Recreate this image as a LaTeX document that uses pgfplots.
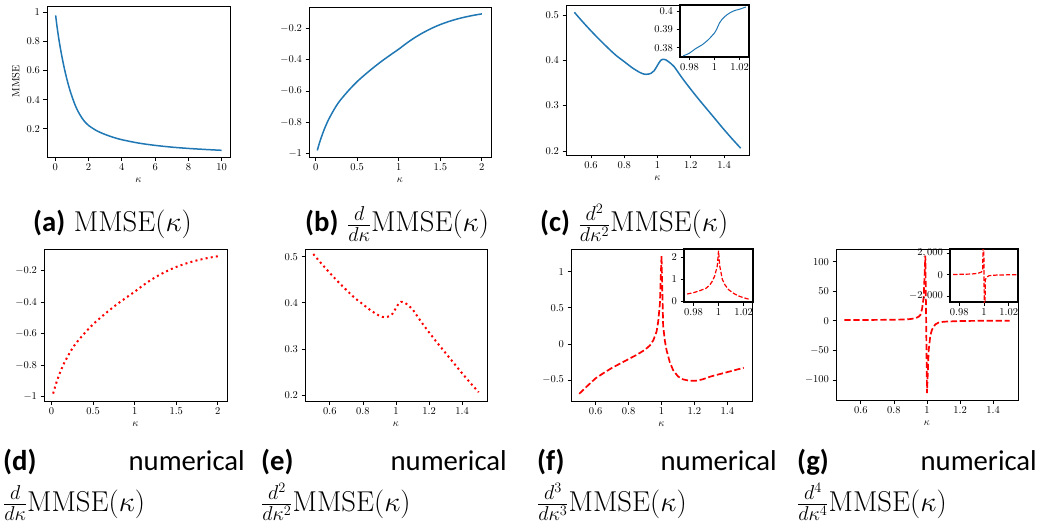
\RequirePackage{fix-cm}
\documentclass[border=0pt]{standalone}
\usepackage{fontspec}
\usepackage{pgfplots}
\usepackage{pgfplotstable}
\pgfplotsset{compat=1.18}
\newfontfamily\capfont{Carlito}
\definecolor{mplblue}{HTML}{1F77B4}
\newcommand{\capsize}{\fontsize{28.7}{34}\selectfont}

% exact MMSE and its derivatives
\pgfplotstableread{
k m
0.02 0.980
0.1 0.906
0.2 0.826
0.3 0.757
0.4 0.695
0.5 0.638
0.6 0.586
0.7 0.539
0.8 0.496
0.9 0.457
1.0 0.422
1.2 0.360
1.4 0.312
1.6 0.274
1.8 0.244
2.0 0.222
2.5 0.185
3.0 0.160
3.5 0.140
4.0 0.124
5.0 0.101
6.0 0.085
7.0 0.073
8.0 0.064
9.0 0.057
10.0 0.051
}\mmse

\pgfplotstableread{
k d
0.02 -0.980
0.05 -0.925
0.1 -0.850
0.15 -0.789
0.2 -0.739
0.25 -0.694
0.3 -0.657
0.4 -0.595
0.5 -0.540
0.6 -0.493
0.7 -0.449
0.8 -0.408
0.9 -0.370
1.0 -0.333
1.1 -0.293
1.2 -0.257
1.3 -0.226
1.4 -0.199
1.5 -0.176
1.6 -0.157
1.7 -0.141
1.8 -0.128
1.9 -0.117
2.0 -0.108
}\dfirst

\pgfplotstableread{
k d
0.5 0.506
0.55 0.485
0.6 0.465
0.65 0.446
0.7 0.428
0.75 0.411
0.8 0.397
0.85 0.383
0.9 0.372
0.93 0.369
0.96 0.371
0.98 0.377
1.0 0.389
1.01 0.395
1.02 0.400
1.03 0.402
1.05 0.401
1.08 0.393
1.1 0.386
1.15 0.360
1.2 0.336
1.25 0.313
1.3 0.291
1.35 0.269
1.4 0.247
1.45 0.226
1.5 0.206
}\dsecond

\pgfplotstableread{
k d
0.975 0.3755
0.98 0.3770
0.985 0.3795
0.99 0.3815
0.995 0.3843
0.998 0.3865
1.0 0.3880
1.002 0.3905
1.004 0.3935
1.006 0.3955
1.01 0.3980
1.015 0.4000
1.02 0.4010
1.025 0.4022
}\dsecondzoom

% numerical third and fourth derivatives
\pgfplotstableread{
k d
0.5 -0.69
0.55 -0.58
0.6 -0.475
0.65 -0.40
0.7 -0.33
0.75 -0.27
0.8 -0.21
0.85 -0.15
0.9 -0.08
0.93 -0.02
0.95 0.05
0.97 0.17
0.98 0.31
0.99 0.55
1.0 1.22
1.01 0.25
1.02 0.05
1.03 -0.08
1.05 -0.25
1.07 -0.36
1.1 -0.45
1.13 -0.49
1.17 -0.51
1.21 -0.51
1.25 -0.49
1.3 -0.45
1.35 -0.42
1.4 -0.39
1.45 -0.36
1.5 -0.33
}\dthird

\pgfplotstableread{
k d
0.975 0.32
0.98 0.38
0.985 0.47
0.99 0.58
0.993 0.73
0.995 0.90
0.997 1.15
0.999 1.60
1.0 2.30
1.001 1.60
1.003 1.00
1.005 0.75
1.008 0.52
1.012 0.35
1.016 0.23
1.02 0.15
1.025 0.07
}\dthirdzoom

\pgfplotstableread{
k d
0.5 1.5
0.6 1.5
0.7 1.6
0.8 1.8
0.85 2.2
0.9 3.0
0.93 4.5
0.95 7
0.96 10
0.97 20
0.98 40
0.99 110
1.0 -122
1.01 -50
1.02 -25
1.03 -15
1.05 -6
1.07 -3
1.1 -1.5
1.2 -0.3
1.3 0
1.5 0
}\dfourth

\pgfplotstableread{
k d
0.975 15
0.985 40
0.99 60
0.995 120
0.998 250
0.999 500
0.9995 9000
1.0005 -9000
1.001 -500
1.002 -250
1.004 -100
1.01 -40
1.02 -15
1.0275 -8
}\dfourthzoom

\pgfplotsset{
  panel/.style={
    scale only axis, anchor=south west,
    axis line style={black, line width=0.8pt},
    tick align=outside, xtick pos=left, ytick pos=left,
    major tick length=3.5pt,
    tick style={black, line width=0.8pt},
    tick label style={font=\fontsize{10.5}{12}\selectfont},
    label style={font=\fontsize{10.5}{12}\selectfont},
    scaled ticks=false,
    /pgf/number format/1000 sep={,},
  },
  inset/.style={panel, axis background/.style={fill=white},
    axis line style={black, line width=1.1pt}},
  exact/.style={mplblue, line width=1.5pt, smooth},
  numdot/.style={red, line width=2pt, dash pattern=on 2pt off 3.2pt},
  numdash/.style={red, line width=1.7pt, dash pattern=on 6.3pt off 2.7pt},
  numdashthin/.style={red, line width=1.2pt, dash pattern=on 4.4pt off 1.9pt},
}

\begin{document}
\begin{tikzpicture}
\useasboundingbox (0,0) rectangle (1040pt,528pt);

% (a)
\begin{axis}[panel, at={(47pt,371pt)}, width=183pt, height=151pt,
  xmin=-0.5, xmax=10.5, ymin=0.005, ymax=1.045,
  xtick={0,2,4,6,8,10}, ytick={0.2,0.4,0.6,0.8,1},
  xlabel={$\kappa$}, ylabel={MMSE}]
\addplot[exact] table[x=k,y=m]{\mmse};
\end{axis}

% (b)
\begin{axis}[panel, at={(309pt,371pt)}, width=182pt, height=150pt,
  xmin=-0.08, xmax=2.11, ymin=-1.022, ymax=-0.064,
  xtick={0,0.5,1,1.5,2}, ytick={-1,-0.8,-0.6,-0.4,-0.2},
  xlabel={$\kappa$}]
\addplot[exact] table[x=k,y=d]{\dfirst};
\end{axis}

% (c)
\begin{axis}[panel, at={(566pt,373pt)}, width=183pt, height=150pt,
  xmin=0.45, xmax=1.55, ymin=0.191, ymax=0.522,
  xtick={0.6,0.8,1,1.2,1.4}, ytick={0.2,0.3,0.4,0.5},
  xlabel={$\kappa$}]
\addplot[exact] table[x=k,y=d]{\dsecond};
\end{axis}
\begin{axis}[inset, at={(680pt,471pt)}, width=69pt, height=52pt,
  xmin=0.9725, xmax=1.0275, ymin=0.3749, ymax=0.4033,
  xtick={0.98,1,1.02}, ytick={0.38,0.39,0.4}]
\addplot[exact, line width=1pt] table[x=k,y=d]{\dsecondzoom};
\end{axis}

% (d)
\begin{axis}[panel, at={(44pt,127pt)}, width=183pt, height=152pt,
  xmin=-0.09, xmax=2.11, ymin=-1.027, ymax=-0.062,
  xtick={0,0.5,1,1.5,2}, ytick={-1,-0.8,-0.6,-0.4,-0.2},
  xlabel={$\kappa$}]
\addplot[numdot, smooth] table[x=k,y=d]{\dfirst};
\end{axis}

% (e)
\begin{axis}[panel, at={(305pt,127pt)}, width=182pt, height=152pt,
  xmin=0.45, xmax=1.55, ymin=0.187, ymax=0.517,
  xtick={0.6,0.8,1,1.2,1.4}, ytick={0.2,0.3,0.4,0.5},
  xlabel={$\kappa$}]
\addplot[numdot, smooth] table[x=k,y=d]{\dsecond};
\end{axis}

% (f)
\begin{axis}[panel, at={(571pt,127pt)}, width=181pt, height=152pt,
  xmin=0.45, xmax=1.55, ymin=-0.79, ymax=1.314,
  xtick={0.6,0.8,1,1.2,1.4}, ytick={-0.5,0,0.5,1},
  xlabel={$\kappa$}]
\addplot[numdash] table[x=k,y=d]{\dthird};
\end{axis}
\begin{axis}[inset, at={(684pt,226pt)}, width=69pt, height=53pt,
  xmin=0.9725, xmax=1.0275, ymin=-0.046, ymax=2.38,
  xtick={0.98,1,1.02}, ytick={0,1,2}]
\addplot[numdashthin] table[x=k,y=d]{\dthirdzoom};
\end{axis}

% (g)
\begin{axis}[panel, at={(836pt,128pt)}, width=182pt, height=151pt,
  xmin=0.45, xmax=1.55, ymin=-133.8, ymax=121.4,
  xtick={0.6,0.8,1,1.2,1.4}, ytick={-100,-50,0,50,100},
  xlabel={$\kappa$}]
\addplot[numdash] table[x=k,y=d]{\dfourth};
\end{axis}
\begin{axis}[inset, at={(950pt,226pt)}, width=68pt, height=53pt,
  xmin=0.9725, xmax=1.0275, ymin=-2560, ymax=2400,
  xtick={0.98,1,1.02}, ytick={-2000,0,2000}]
\addplot[numdashthin] table[x=k,y=d]{\dfourthzoom};
\end{axis}

% sub-captions
\begin{scope}[every node/.style={inner sep=0pt, font=\capsize}]
\node[anchor=base west] at (33pt,296pt) {{\capfont\bfseries (a)} $\mathrm{MMSE}(\kappa)$};
\node[anchor=base west] at (305pt,296pt) {{\capfont\bfseries (b)} $\frac{d}{d\kappa}\mathrm{MMSE}(\kappa)$};
\node[anchor=base west] at (540pt,296pt) {{\capfont\bfseries (c)} $\frac{d^2}{d\kappa^2}\mathrm{MMSE}(\kappa)$};

\node[anchor=base west] at (3pt,58pt) {\capfont\bfseries (d)};
\node[anchor=base east] at (245pt,58pt) {\capfont numerical};
\node[anchor=base west] at (3pt,17pt) {$\frac{d}{d\kappa}\mathrm{MMSE}(\kappa)$};

\node[anchor=base west] at (261pt,58pt) {\capfont\bfseries (e)};
\node[anchor=base east] at (507pt,58pt) {\capfont numerical};
\node[anchor=base west] at (261pt,17pt) {$\frac{d^2}{d\kappa^2}\mathrm{MMSE}(\kappa)$};

\node[anchor=base west] at (537pt,58pt) {\capfont\bfseries (f)};
\node[anchor=base east] at (777pt,58pt) {\capfont numerical};
\node[anchor=base west] at (537pt,17pt) {$\frac{d^3}{d\kappa^3}\mathrm{MMSE}(\kappa)$};

\node[anchor=base west] at (797pt,58pt) {\capfont\bfseries (g)};
\node[anchor=base east] at (1037pt,58pt) {\capfont numerical};
\node[anchor=base west] at (797pt,17pt) {$\frac{d^4}{d\kappa^4}\mathrm{MMSE}(\kappa)$};
\end{scope}
\end{tikzpicture}
\end{document}
